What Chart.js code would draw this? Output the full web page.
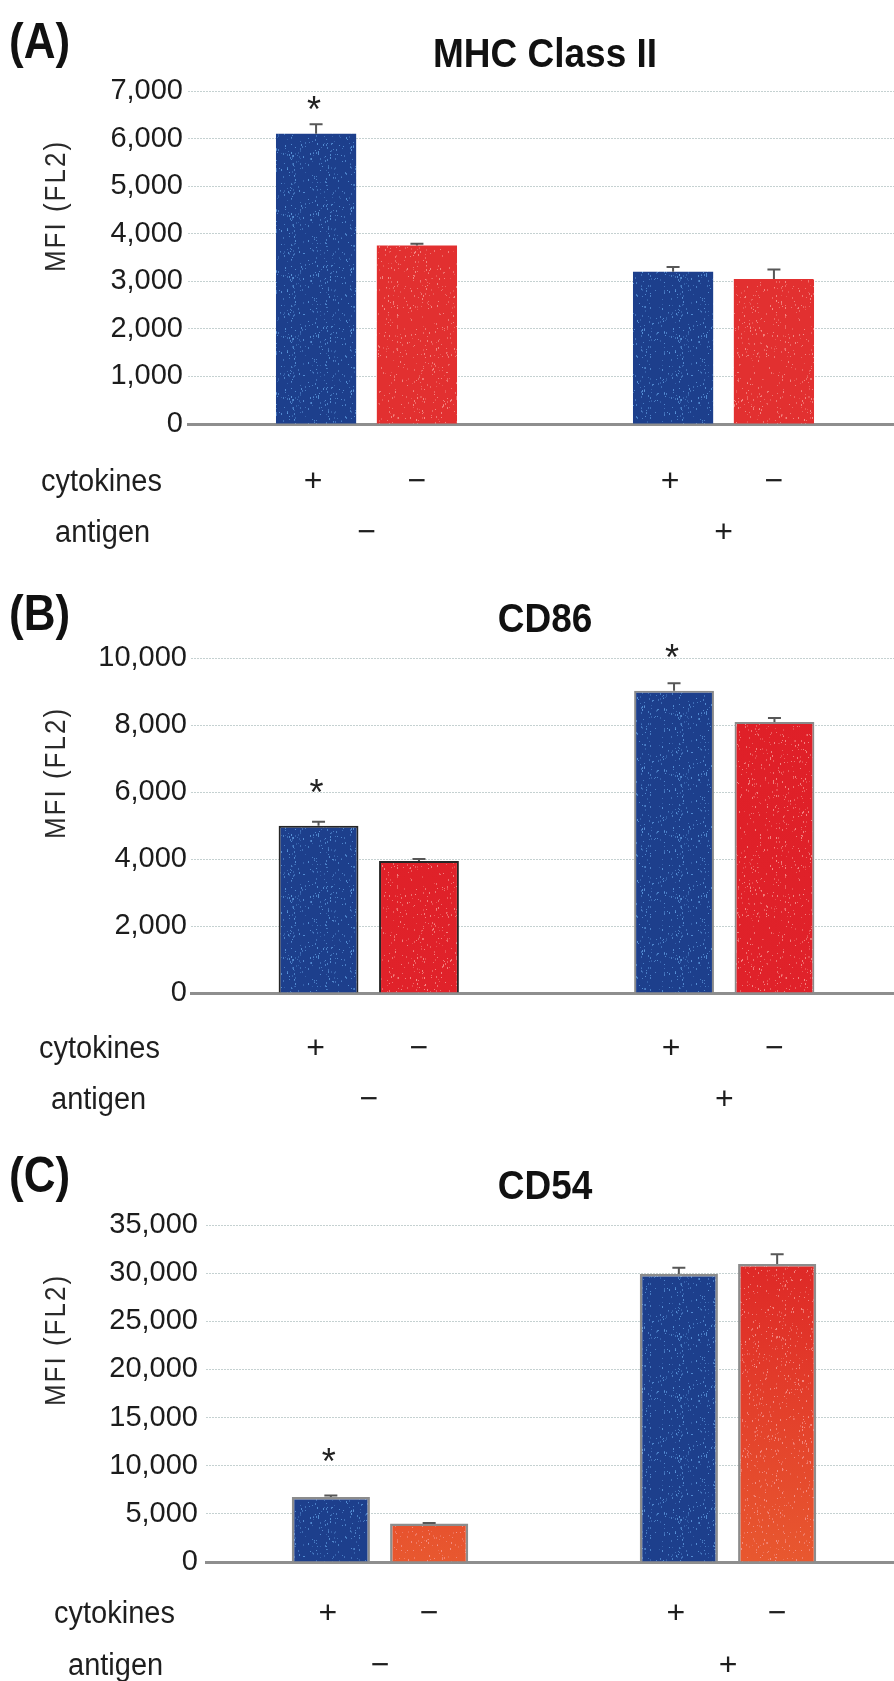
<!DOCTYPE html>
<html>
<head>
<meta charset="utf-8">
<script src="https://cdn.jsdelivr.net/npm/chart.js@4.4.1/dist/chart.umd.min.js"></script>
<style>
  html, body { margin: 0; padding: 0; background: #fff; overflow: hidden; width: 894px; height: 1681px; }
  canvas.panel { position: absolute; left: 0; }
</style>
</head>
<body>
<canvas id="panelA" class="panel"></canvas>
<canvas id="panelB" class="panel"></canvas>
<canvas id="panelC" class="panel"></canvas>
<script>
// ---- data ----
const antigenSigns = ['−', '+'];          // one category per antigen condition
const cytokineSigns = ['+', '−'];         // dataset 0 = with cytokines, dataset 1 = without
const panelLetters = ['(A)', '(B)', '(C)'];
const panelTitles = ['MHC Class II', 'CD86', 'CD54'];
const yAxisTitle = 'MFI (FL2)';
const rowLabels = ['cytokines', 'antigen'];
const yMax = [7000, 10000, 35000];
const yStep = [1000, 2000, 5000];

const mhcWith = [6100, 3200];
const mhcWithout = [3750, 3050];
const mhcWithErr = [200, 100];
const mhcWithoutErr = [40, 200];
const mhcStars = [true, false];

const cd86With = [4990, 9020];
const cd86Without = [3940, 8090];
const cd86WithErr = [120, 230];
const cd86WithoutErr = [60, 120];
const cd86Stars = [true, true];

const cd54With = [6750, 29900];
const cd54Without = [3990, 30950];
const cd54WithErr = [150, 650];
const cd54WithoutErr = [70, 1000];
const cd54Stars = [true, false];

// ---- layout of each panel canvas ----
const FONT = "'Liberation Sans', Arial, Helvetica, sans-serif";
const CANVAS_W = 902;
const frames = [
  { id: 'panelA', top: 0,    h: 560, left: 188, pad: 5, areaTop: 91,  areaBottom: 424, letterY: 44, titleY: 56, rowX: 41, antX: 55, signY: 482, antY: 533, starGap: 33,
    border: 0, borderWith: ['rgba(0,0,0,0)', 'rgba(0,0,0,0)'], borderWithout: ['rgba(0,0,0,0)', 'rgba(0,0,0,0)'], redTop: '#e23030', redBottom: '#e23030' },
  { id: 'panelB', top: 560,  h: 560, left: 191, pad: 4, areaTop: 98,  areaBottom: 433, letterY: 56, titleY: 61, rowX: 39, antX: 51, signY: 489, antY: 540, starGap: 42,
    border: 2, borderWith: ['#262626', '#8a8a8a'], borderWithout: ['#262626', '#8a8a8a'], redTop: '#df1f27', redBottom: '#e0222a' },
  { id: 'panelC', top: 1120, h: 561, left: 206, pad: 8, areaTop: 105, areaBottom: 442, letterY: 58, titleY: 68, rowX: 54, antX: 68, signY: 494, antY: 546, starGap: 44,
    border: 2.5, borderWith: ['#8c8c8c', '#8c8c8c'], borderWithout: ['#8c8c8c', '#8c8c8c'], redTop: '#dd2326', redBottom: '#e8582f' }
];

const panelValues = [
  { withVals: mhcWith, withoutVals: mhcWithout, withErr: mhcWithErr, withoutErr: mhcWithoutErr, stars: mhcStars },
  { withVals: cd86With, withoutVals: cd86Without, withErr: cd86WithErr, withoutErr: cd86WithoutErr, stars: cd86Stars },
  { withVals: cd54With, withoutVals: cd54Without, withErr: cd54WithErr, withoutErr: cd54WithoutErr, stars: cd54Stars }
];

// Speckled fill tile: base paint plus a fixed scatter of light flecks (integer hash, repeatable).
function speckleTile(w, h, paintBase, fleck, count, seed) {
  const c = document.createElement('canvas');
  c.width = w; c.height = h;
  const g = c.getContext('2d');
  paintBase(g, w, h);
  g.fillStyle = fleck;
  for (let i = 0; i < count; i++) {
    let s = Math.imul(i + seed, 2654435761) >>> 0;
    s ^= s >>> 15; s = Math.imul(s, 2246822519) >>> 0; s ^= s >>> 13;
    const x = s % w;
    const y = (s >>> 9) % h;
    g.globalAlpha = 0.35 + ((s >>> 4) & 3) * 0.15;
    g.fillRect(x, y, 1, 1 + ((s >>> 7) & 1));
  }
  g.globalAlpha = 1;
  return c;
}

// Text drawn slightly stretched vertically, like the narrow-looking lettering of the figure.
function tallText(ctx, text, x, y, stretch) {
  ctx.save();
  ctx.translate(x, y);
  ctx.scale(1, stretch);
  ctx.fillText(text, 0, 0);
  ctx.restore();
}

const decor = {
  id: 'decor',
  afterDatasetsDraw(chart, args, o) {
    const ctx = chart.ctx;
    const ys = chart.scales.y;
    ctx.save();
    ctx.strokeStyle = '#575757';
    ctx.lineWidth = 2;
    o.errors.forEach((errs, d) => {
      const meta = chart.getDatasetMeta(d);
      const vals = chart.data.datasets[d].data;
      meta.data.forEach((bar, j) => {
        const yEnd = ys.getPixelForValue(vals[j] + errs[j]);
        ctx.beginPath();
        ctx.moveTo(bar.x, bar.y);
        ctx.lineTo(bar.x, yEnd);
        ctx.moveTo(bar.x - 6.5, yEnd);
        ctx.lineTo(bar.x + 6.5, yEnd);
        ctx.stroke();
      });
    });
    // significance marks over the cytokine-treated bars
    ctx.fillStyle = '#222';
    ctx.font = '36px ' + FONT;
    ctx.textAlign = 'center';
    ctx.textBaseline = 'alphabetic';
    const meta0 = chart.getDatasetMeta(0);
    o.stars.forEach((on, j) => {
      if (!on) return;
      const bar = meta0.data[j];
      const cy = bar.y - o.starGap;
      ctx.fillText('*', bar.x - 2, cy + 0.59 * 36);
    });
    ctx.restore();
  },
  afterDraw(chart, args, o) {
    const ctx = chart.ctx;
    const xs = chart.scales.x;
    const area = chart.chartArea;
    ctx.save();
    ctx.fillStyle = '#111';
    ctx.textBaseline = 'middle';
    // panel letter and title
    ctx.font = 'bold 44px ' + FONT;
    ctx.textAlign = 'left';
    tallText(ctx, o.letter, 9, o.letterY, 1.15);
    ctx.font = 'bold 37px ' + FONT;
    ctx.textAlign = 'center';
    tallText(ctx, o.title, 545, o.titleY, 1.08);
    // y axis title
    ctx.save();
    ctx.fillStyle = '#2a2a2a';
    ctx.font = '26px ' + FONT;
    ctx.letterSpacing = '2px';
    ctx.translate(57, area.top + 115);
    ctx.rotate(-Math.PI / 2);
    ctx.scale(1, 1.1);
    ctx.fillText(yAxisTitle, 0, 0);
    ctx.restore();
    // treatment rows under the bars
    ctx.fillStyle = '#1e1e1e';
    ctx.font = '29px ' + FONT;
    ctx.textAlign = 'left';
    tallText(ctx, rowLabels[0], o.rowX, o.signY, 1.1);
    tallText(ctx, rowLabels[1], o.antX, o.antY, 1.1);
    ctx.textAlign = 'center';
    ctx.font = '32px ' + FONT;
    chart.data.datasets.forEach((ds, d) => {
      chart.getDatasetMeta(d).data.forEach(bar => {
        ctx.fillText(cytokineSigns[d], bar.x - (d === 0 ? 3 : 0), o.signY);
      });
    });
    chart.data.labels.forEach((lab, j) => {
      ctx.fillText(lab, xs.getPixelForValue(j), o.antY);
    });
    ctx.restore();
  }
};

frames.forEach((f, i) => {
  const v = panelValues[i];
  const canvas = document.getElementById(f.id);
  canvas.width = CANVAS_W;
  canvas.height = f.h;
  canvas.style.top = f.top + 'px';
  canvas.style.width = CANVAS_W + 'px';
  canvas.style.height = f.h + 'px';
  const ctx = canvas.getContext('2d');

  const blueTile = speckleTile(97, 61, (g, w, h) => {
    g.fillStyle = '#1d3f8c'; g.fillRect(0, 0, w, h);
  }, '#5f9ce0', 520, 11 + i);
  const redTile = speckleTile(97, f.h, (g, w, h) => {
    const grad = g.createLinearGradient(0, f.areaTop, 0, f.areaBottom);
    grad.addColorStop(0, f.redTop);
    grad.addColorStop(1, f.redBottom);
    g.fillStyle = grad; g.fillRect(0, 0, w, h);
  }, '#f59a94', Math.round(97 * f.h * 0.07), 29 + i);

  new Chart(ctx, {
    type: 'bar',
    data: {
      labels: antigenSigns,
      datasets: [
        { label: 'cytokines +', data: v.withVals, backgroundColor: ctx.createPattern(blueTile, 'repeat'),
          borderColor: f.borderWith, borderWidth: f.border, borderSkipped: 'bottom' },
        { label: 'cytokines −', data: v.withoutVals, backgroundColor: ctx.createPattern(redTile, 'repeat'),
          borderColor: f.borderWithout, borderWidth: f.border, borderSkipped: 'bottom' }
      ]
    },
    options: {
      responsive: false,
      animation: false,
      devicePixelRatio: 1,
      categoryPercentage: 0.565,
      barPercentage: 0.795,
      layout: { padding: { left: 0, right: 0, top: f.areaTop, bottom: f.h - f.areaBottom } },
      scales: {
        x: {
          ticks: { display: false },
          grid: { display: false, drawTicks: false },
          border: { display: true, color: '#8e8e8e', width: 3 },
          afterFit: s => { s.height = 0; }
        },
        y: {
          min: 0,
          max: yMax[i],
          ticks: {
            stepSize: yStep[i],
            color: '#1c1c1c',
            padding: f.pad,
            font: { family: FONT, size: 29 },
            callback: val => val.toLocaleString('en-US')
          },
          grid: {
            drawTicks: false,
            lineWidth: 1,
            color: c => (c.tick && c.tick.value === 0) ? 'rgba(0,0,0,0)' : 'rgba(150,172,172,0.55)'
          },
          border: { display: false, dash: [2, 1] },
          afterFit: s => { s.width = f.left; }
        }
      },
      plugins: {
        legend: { display: false },
        tooltip: { enabled: false },
        decor: {
          letter: panelLetters[i],
          title: panelTitles[i],
          letterY: f.letterY,
          titleY: f.titleY,
          rowX: f.rowX,
          antX: f.antX,
          signY: f.signY,
          antY: f.antY,
          starGap: f.starGap,
          errors: [v.withErr, v.withoutErr],
          stars: v.stars
        }
      }
    },
    plugins: [decor]
  });
});
</script>
</body>
</html>
